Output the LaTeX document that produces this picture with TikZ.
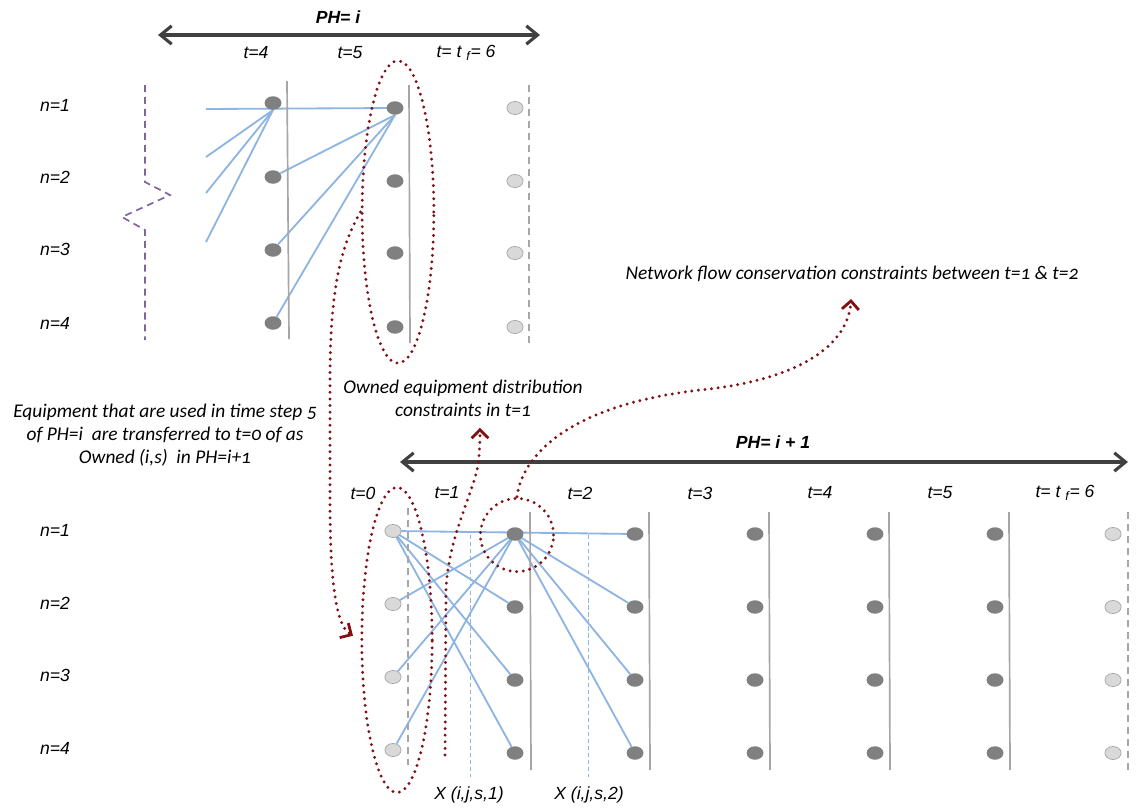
\documentclass[tikz,border=0pt]{standalone}
\usepackage{fontspec}
\setmainfont{Liberation Sans}
\newfontfamily\notefont[Numbers=OldStyle]{Carlito}
\usepackage{xcolor}
\usetikzlibrary{positioning, arrows.meta, shapes.geometric, backgrounds}
\definecolor{flowblue}{RGB}{141,180,226}
\definecolor{ringred}{RGB}{128,16,20}
\definecolor{nodedark}{RGB}{128,128,128}
\definecolor{nodelight}{RGB}{217,217,217}
\definecolor{sepgray}{RGB}{166,166,166}
\definecolor{axisgray}{RGB}{64,64,64}
\definecolor{breakpurple}{RGB}{128,100,160}
\tikzset{
  busy/.style={ellipse, fill=nodedark, inner sep=0pt, minimum width=12pt, minimum height=9.6pt},
  idle/.style={ellipse, fill=nodelight, draw=sepgray, line width=0.5pt, inner sep=0pt, minimum width=11.5pt, minimum height=9.3pt},
  tlabel/.style={font=\fontsize{12.5}{15}\selectfont\itshape},
  phlabel/.style={font=\fontsize{12.5}{15}\selectfont\bfseries\itshape},
  note/.style={font=\notefont\fontsize{13.8}{16.3}\selectfont\itshape, align=center, inner sep=2pt},
  flow/.style={flowblue, line width=1.3pt},
  xguide/.style={flowblue, line width=0.5pt, dash pattern=on 3pt off 2pt},
  divider/.style={sepgray, line width=1.2pt},
  bound/.style={sepgray, line width=1.2pt, dash pattern=on 5pt off 3.5pt},
  breakline/.style={breakpurple, line width=1.2pt, dash pattern=on 5pt off 3.5pt},
  ring/.style={draw=ringred, line width=2.3pt, line cap=round, dash pattern=on 0pt off 4.7pt, inner sep=0pt},
  pointer/.style={ringred, line width=2.3pt, line cap=round, dash pattern=on 0pt off 4.7pt, -{Straight Barb[length=6pt,width=12pt,line width=2pt]}},
  horizon/.style={axisgray, line width=2.2pt, {Straight Barb[length=8pt,width=13pt]}-{Straight Barb[length=8pt,width=13pt]}},
}

\begin{document}
\begin{tikzpicture}[x=0.025cm, y=-0.025cm]
  \useasboundingbox (0,0) rectangle (1138,809);

  % Horizon PH=i
  \coordinate (ha) at (158,35);
  \coordinate (hb) at (540,35);
  \draw[horizon] (ha) -- (hb);
  \node[phlabel] (pha) at (338,17) {PH= i};
  \node[tlabel] (ta4) at (256,53) {t=4};
  \node[tlabel] (ta5) at (350,53) {t=5};
  \node[tlabel] (ta6) at (466,53) {t= t \textsubscript{f}= 6};

  % Row labels
  \foreach \n/\ya/\yb in {1/105/530, 2/177/603, 3/249/675, 4/323/748} {
    \node[tlabel] (na-\n) at (55,\ya) {n=\n};
    \node[tlabel] (nb-\n) at (55,\yb) {n=\n};
  }

  % Columns of PH=i
  \draw[divider] (287,81) -- (289,339);
  \draw[divider] (409,85) -- (410,343);
  \draw[bound] (529,85) -- (529,345);
  \draw[breakline] (145,85) -- (145,182) -- (170,195) -- (122,217) -- (145,230) -- (145,340);
  \foreach \n/\ya/\yb in {1/103/108, 2/177/181, 3/250/253, 4/323/327} {
    \node[busy] (pa4-\n) at (273,\ya) {};
    \node[busy] (pa5-\n) at (395,\yb) {};
    \node[idle] (pa6-\n) at (515,\yb) {};
  }

  % Arcs of PH=i
  \foreach \k/\y in {1/109, 2/157, 3/193, 4/242}
    \coordinate (in\k) at (206,\y);
  \begin{scope}[on background layer]
    \draw[flow] (in1) -- (pa5-1.center);
    \foreach \k in {2,3,4} {
      \draw[flow] (in\k) -- (pa4-1.south);
      \draw[flow] (pa5-1.south) -- (pa4-\k);
    }
  \end{scope}

  % Horizon PH=i+1
  \coordinate (hc) at (400,462);
  \coordinate (hd) at (1128,462);
  \draw[horizon] (hc) -- (hd);
  \node[phlabel] (phb) at (773,442) {PH= i + 1};
  \foreach \t/\x in {0/363, 1/447, 2/580, 3/700, 4/820, 5/940}
    \node[tlabel] (tb\t) at (\x,493) {t=\t};
  \node[tlabel] (tb6) at (1065,493) {t= t \textsubscript{f}= 6};

  % Columns of PH=i+1
  \draw[bound] (408,508) -- (408,765);
  \foreach \x in {530, 649, 769, 889, 1009}
    \draw[divider] (\x,512) -- (\x+1,770);
  \draw[bound] (1128,512) -- (1128,770);
  \draw[xguide] (470,535) -- (470,777);
  \draw[xguide] (588,535) -- (588,777);
  \foreach \n/\y in {1/534, 2/607, 3/680, 4/753} {
    \node[idle] (qb0-\n) at (393,\y-3) {};
    \foreach \t/\x in {1/515, 2/635, 3/755, 4/875, 5/995}
      \node[busy] (qb\t-\n) at (\x,\y) {};
    \node[idle] (qb6-\n) at (1113,\y) {};
  }
  \node[tlabel] (xa) at (469,795) {X (i,j,s,1)};
  \node[tlabel] (xb) at (589,795) {X (i,j,s,2)};

  % Arcs of PH=i+1
  \begin{scope}[on background layer]
    \draw[flow] (qb0-1.center) -- (qb2-1.center);
    \foreach \k in {2,3,4} {
      \draw[flow] (qb0-1.center) -- (qb1-\k);
      \draw[flow] (qb1-1.center) -- (qb0-\k);
      \draw[flow] (qb1-1.center) -- (qb2-\k);
    }
  \end{scope}

  % Constraint rings
  \node[ring, ellipse, minimum width=51pt, minimum height=215pt] (own5) at (398,212) {};
  \node[ring, ellipse, minimum width=50pt, minimum height=217pt] (own0) at (397,640) {};
  \node[ring, circle, minimum size=52pt] (cons1) at (517,535) {};

  % Notes
  \node[note] (usednote) at (165,435) {Equipment that are used in time step 5\\of PH=i\ \ are transferred to t=0 of as\\Owned (i,s)\ \ in PH=i+1};
  \node[note] (ownnote) at (463,398) {Owned equipment distribution\\constraints in t=1};
  \node[note] (netnote) at (852,274) {Network flow conservation constraints between t=1 \& t=2};

  % Pointers
  \draw[pointer, shorten >=6pt] (own5.west) .. controls (338,250) and (330,300) .. (330,380) -- (330,500) .. controls (330,575) and (335,625) .. (own0.west);
  \draw[pointer, shorten >=10pt] (cons1.north) .. controls (522,455) and (570,405) .. (700,390) .. controls (800,380) and (848,345) .. (netnote.south);
  \coordinate (ownfoot) at (445,755);
  \draw[pointer, shorten >=6pt] (ownfoot) -- (446,590) .. controls (448,540) and (470,500) .. (477,470) .. controls (480,455) and (480,440) .. ([xshift=12pt]ownnote.south);
\end{tikzpicture}
\end{document}
